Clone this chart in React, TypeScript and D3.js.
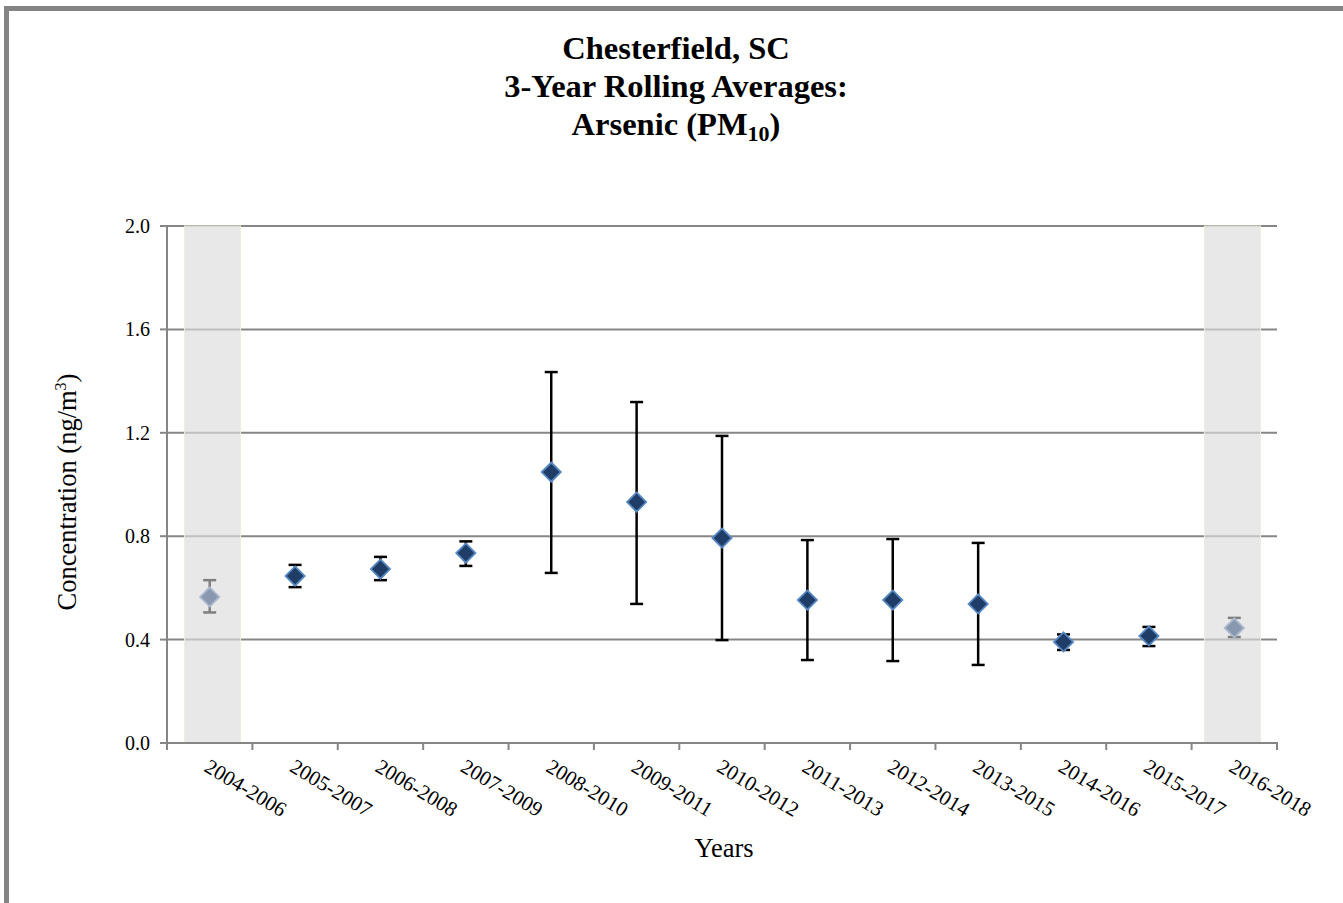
import React from 'react';
import * as d3 from 'd3';

const periods = [
  '2004-2006', '2005-2007', '2006-2008', '2007-2009', '2008-2010', '2009-2011', '2010-2012',
  '2011-2013', '2012-2014', '2013-2015', '2014-2016', '2015-2017', '2016-2018',
];
const means = [0.565, 0.646, 0.673, 0.735, 1.048, 0.932, 0.793, 0.553, 0.553, 0.538, 0.391, 0.414, 0.445];
const upper = [0.63, 0.689, 0.72, 0.78, 1.435, 1.319, 1.188, 0.785, 0.789, 0.774, 0.42, 0.449, 0.484];
const lower = [0.505, 0.603, 0.63, 0.685, 0.658, 0.538, 0.398, 0.321, 0.317, 0.302, 0.36, 0.375, 0.41];
// periods with incomplete data, drawn greyed out on a shaded band
const incomplete = ['2004-2006', '2016-2018'];
const yTicks = [0, 0.4, 0.8, 1.2, 1.6, 2.0];

const W = 1343;
const H = 903;
const FONT = '"Liberation Serif", "Times New Roman", serif';

export default function App() {
  const x = d3.scaleBand<string>().domain(periods).range([167, 1277]).padding(0);
  // shaded bands sit on a secondary category axis, slightly offset like the original
  const xBand = d3.scaleBand<string>().domain(periods).range([170, 1275])
    .paddingInner(0.34).paddingOuter(0.17);
  const y = d3.scaleLinear().domain([0, 2]).range([743, 226]);
  const bw = x.bandwidth();
  const cx = (p: string) => (x(p) || 0) + bw / 2;
  const [x0, x1] = x.range();
  const diamond = d3.symbol().type(d3.symbolDiamond2).size(235);
  const boundaries = d3.range(periods.length + 1).map(i => x0 + i * bw);

  return (
    <svg width={W} height={H} style={{ position: 'fixed', left: 0, top: 0, background: '#fff' }} fontFamily={FONT}>
      {/* outer frame */}
      <rect x={6.5} y={8.5} width={W + 20} height={H + 20} fill="none" stroke="#848484" strokeWidth={5} />

      {/* title */}
      <g textAnchor="middle" fontWeight="bold" fontSize={32.5} fill="#000">
        <text x={676} y={59}>Chesterfield, SC</text>
        <text x={676} y={97}>3-Year Rolling Averages:</text>
        <text x={676} y={135}>
          Arsenic (PM<tspan fontSize={22} dy={6}>10</tspan><tspan dy={-6}>)</tspan>
        </text>
      </g>

      {/* gridlines */}
      {yTicks.filter(t => t > 0).map(t => (
        <line key={t} x1={x0} x2={x1} y1={y(t)} y2={y(t)} stroke="#868686" strokeWidth={2} />
      ))}

      {/* shaded bands for incomplete periods */}
      {incomplete.map(p => (
        <rect key={p} x={xBand(p)} y={y(2)} width={xBand.bandwidth()} height={y(0) - y(2)}
          fill="#dcdcdc" fillOpacity={0.66} stroke="#eeeed8" strokeWidth={1} />
      ))}

      {/* axes */}
      <line x1={x0} x2={x0} y1={y(2) - 1} y2={y(0)} stroke="#868686" strokeWidth={2} />
      <line x1={x0 - 1} x2={x1 + 1} y1={y(0)} y2={y(0)} stroke="#868686" strokeWidth={2} />
      {yTicks.map(t => (
        <g key={t}>
          <line x1={x0 - 7} x2={x0} y1={y(t)} y2={y(t)} stroke="#868686" strokeWidth={2} />
          <text x={150} y={y(t)} dy="0.35em" textAnchor="end" fontSize={20} fill="#000">{t.toFixed(1)}</text>
        </g>
      ))}
      {boundaries.map((b, i) => (
        <line key={i} x1={b} x2={b} y1={y(0)} y2={y(0) + 7} stroke="#868686" strokeWidth={2} />
      ))}
      {periods.map(p => (
        <text key={p} transform={`translate(${cx(p) + 1},${y(0) + 15}) rotate(31)`} fontSize={21} fill="#000"
          dy="0.7em">{p}</text>
      ))}

      {/* axis titles */}
      <text x={724} y={857} textAnchor="middle" fontSize={26.5} fill="#000">Years</text>
      <text transform={`translate(76,492) rotate(-90)`} textAnchor="middle" fontSize={26.5} fill="#000">
        Concentration (ng/m<tspan fontSize={16} dy={-10}>3</tspan><tspan dy={10}>)</tspan>
      </text>

      {/* error bars and markers */}
      {periods.map((p, i) => {
        const grey = incomplete.includes(p);
        const c = cx(p);
        const col = grey ? '#7f7f7f' : '#000';
        return (
          <g key={p}>
            <line x1={c} x2={c} y1={y(upper[i])} y2={y(lower[i])} stroke={col} strokeWidth={2.5} />
            <line x1={c - 6.5} x2={c + 6.5} y1={y(upper[i])} y2={y(upper[i])} stroke={col} strokeWidth={2.5} />
            <line x1={c - 6.5} x2={c + 6.5} y1={y(lower[i])} y2={y(lower[i])} stroke={col} strokeWidth={2.5} />
            <path d={diamond() || ''} transform={`translate(${c},${y(means[i])})`}
              fill={grey ? '#8998ae' : '#1f3d66'} stroke={grey ? '#aab9cf' : '#5688c4'} strokeWidth={1.8} />
          </g>
        );
      })}
    </svg>
  );
}
